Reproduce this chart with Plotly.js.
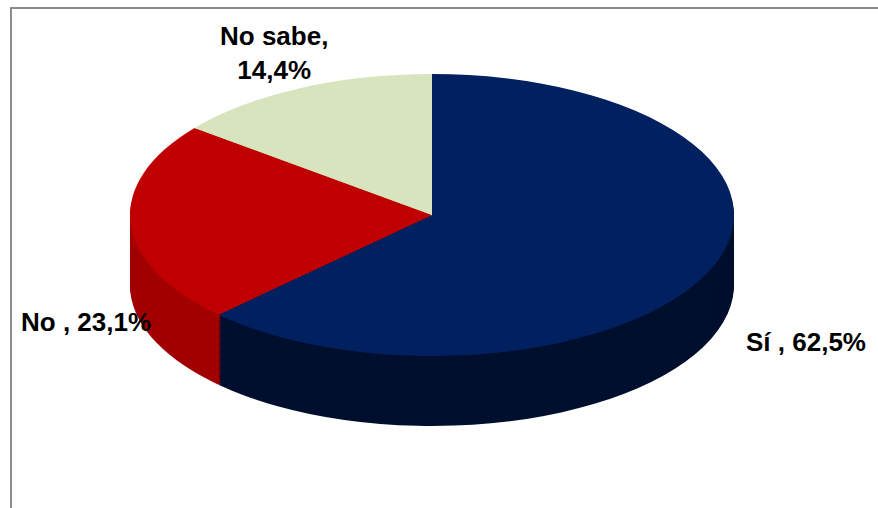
<!DOCTYPE html>
<html>
<head>
<meta charset="utf-8">
<script src="https://cdn.plot.ly/plotly-3.0.1.min.js"></script>
<style>
  html, body { margin: 0; padding: 0; background: #ffffff; overflow: hidden; }
  #frame { position: absolute; left: 10px; top: 7px; width: 870px; height: 503px;
           border-left: 2px solid #8c8c8c; border-top: 2px solid #8c8c8c; background: #fff; }
  #chart { width: 868px; height: 501px; }
</style>
</head>
<body>
<div id="frame"><div id="chart"></div></div>
<script>
const categories = ["Sí", "No", "No sabe"];
const values = [62.5, 23.1, 14.4];
const colors = ["#002060", "#C00000", "#D7E4BD"];
const sideColors = ["#000f2e", "#a20000", "#b4c09c"];

function fmt(v) { return v.toFixed(1).replace(".", ","); }
const labelTexts = [
  categories[0] + " , " + fmt(values[0]) + "%",
  categories[1] + " , " + fmt(values[1]) + "%",
  categories[2] + ",<br>" + fmt(values[2]) + "%"
];
// label anchor positions (paper fractions) for each category
const labelPos = [
  { x: 0.915, y: 0.335 },
  { x: 0.085, y: 0.375 },
  { x: 0.302, y: 0.912 }
];

// geometry of the tilted disc (pixels inside the plot div)
const W = 868, H = 501;
const CX = 420, CY = 206;      // centre of the top face
const RY = 141, RX = 302;      // half-height / half-width of the top face
const DEPTH = 70, STEP = 2;    // thickness of the disc

function pieTrace(offset, cols) {
  const cy = CY + offset;
  return {
    type: "pie",
    labels: categories,
    values: values,
    sort: false,
    direction: "clockwise",
    rotation: 0,
    marker: { colors: cols, line: { width: 0 } },
    textinfo: "none",
    hoverinfo: "skip",
    domain: {
      x: [(CX - RY) / W, (CX + RY) / W],
      y: [1 - (cy + RY) / H, 1 - (cy - RY) / H]
    },
    showlegend: false,
    automargin: false
  };
}

const traces = [];
for (let off = DEPTH; off > 0; off -= STEP) traces.push(pieTrace(off, sideColors));
traces.push(pieTrace(0, colors));

const annotations = labelTexts.map((t, i) => ({
  xref: "paper", yref: "paper",
  x: labelPos[i].x, y: labelPos[i].y,
  xanchor: "center", yanchor: "middle",
  text: t, showarrow: false, align: "center",
  font: { family: "Liberation Sans, Arial, sans-serif", size: 26, color: "#000000", weight: "bold" }
}));

const layout = {
  width: W,
  height: H,
  margin: { l: 0, r: 0, t: 0, b: 0 },
  paper_bgcolor: "#ffffff",
  separators: ",.",
  showlegend: false,
  annotations: annotations,
  font: { family: "Liberation Sans, Arial, sans-serif", color: "#000000" }
};

Plotly.newPlot("chart", traces, layout, { displayModeBar: false, staticPlot: true }).then(gd => {
  // stretch the discs horizontally to give the perspective (elliptical) look
  const sx = RX / RY;
  gd.querySelectorAll(".pielayer").forEach(g => {
    g.setAttribute("transform", `translate(${CX},0) scale(${sx},1) translate(${-CX},0)`);
  });
});
</script>
</body>
</html>
